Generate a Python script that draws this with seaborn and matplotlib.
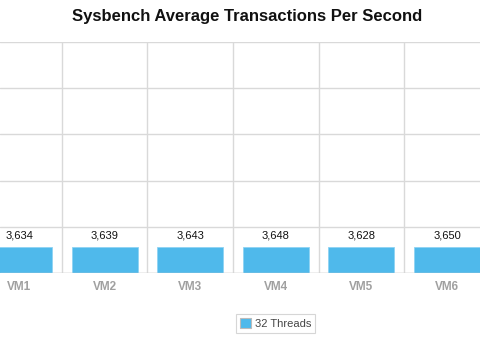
import matplotlib
matplotlib.use("Agg")
import matplotlib.pyplot as plt
import matplotlib.patches as mpatches
import seaborn as sns
import pandas as pd
import numpy as np

# Benchmark results
vms = ["VM1", "VM2", "VM3", "VM4", "VM5", "VM6"]
tps_32_threads = [3634, 3639, 3643, 3648, 3628, 3650]
series_name = "32 Threads"
title = "Sysbench Average Transactions Per Second"
y_ticks = [0, 6500, 13000, 19500, 26000, 32500]

bar_color = "#4FB9EB"
grid_color = "#D9D9D9"

sns.set_theme(style="white")
plt.rcParams["font.family"] = ["Liberation Sans", "DejaVu Sans"]

df = pd.DataFrame({"vm": vms, "tps": tps_32_threads})

fig = plt.figure(figsize=(4.8, 3.41), dpi=100)
ax = fig.add_axes([0.0, 68 / 341, 1.0, 231 / 341])

sns.barplot(data=df, x="vm", y="tps", color=bar_color, saturation=1,
            width=0.77, edgecolor="#8FD3F3", linewidth=0.6, ax=ax, zorder=3)

ax.set_ylim(y_ticks[0], y_ticks[-1])
ax.set_yticks(y_ticks)
ax.set_yticklabels([])
ax.set_xticks(np.arange(len(vms)) + 0.5, minor=True)
ax.grid(axis="y", color=grid_color, linewidth=1.0, zorder=0)
ax.grid(axis="x", which="minor", color=grid_color, linewidth=1.0, zorder=0)
ax.grid(axis="x", which="major", visible=False)
for s in ax.spines.values():
    s.set_visible(False)
ax.axhline(0, color="#CCCCCC", linewidth=1.0, zorder=4)

ax.tick_params(axis="both", which="both", length=0)
ax.tick_params(axis="x", pad=6)
ax.set_xlabel("")
ax.set_ylabel("")
for lbl in ax.get_xticklabels():
    lbl.set_color("#A0A0A0")
    lbl.set_fontweight("bold")
    lbl.set_fontsize(8.5)

for container in ax.containers:
    ax.bar_label(container, labels=[f"{v:,}" for v in tps_32_threads],
                 padding=4.5, fontsize=8, color="#111111")

fig.text(0.514, 1 - 16 / 341, title, ha="center", va="center",
         fontsize=12, fontweight="bold", color="#111111")

handle = mpatches.Patch(facecolor=bar_color, edgecolor="#BBBBBB", linewidth=0.8)
leg = fig.legend([handle], [series_name], loc="center",
                 bbox_to_anchor=(275.5 / 480, 1 - 323.5 / 341),
                 frameon=True, fancybox=False, fontsize=8,
                 handlelength=1.0, handleheight=1.0, handletextpad=0.4,
                 borderpad=0.35, borderaxespad=0)
leg.get_frame().set_edgecolor("#CCCCCC")
leg.get_frame().set_linewidth(0.8)
for t in leg.get_texts():
    t.set_color("#444444")

# Horizontal window: the outer categories are partially cut off
ax.set_autoscale_on(False)
ax.set_xlim(-0.222, 5.385)

fig.savefig("out.png", dpi=100)
